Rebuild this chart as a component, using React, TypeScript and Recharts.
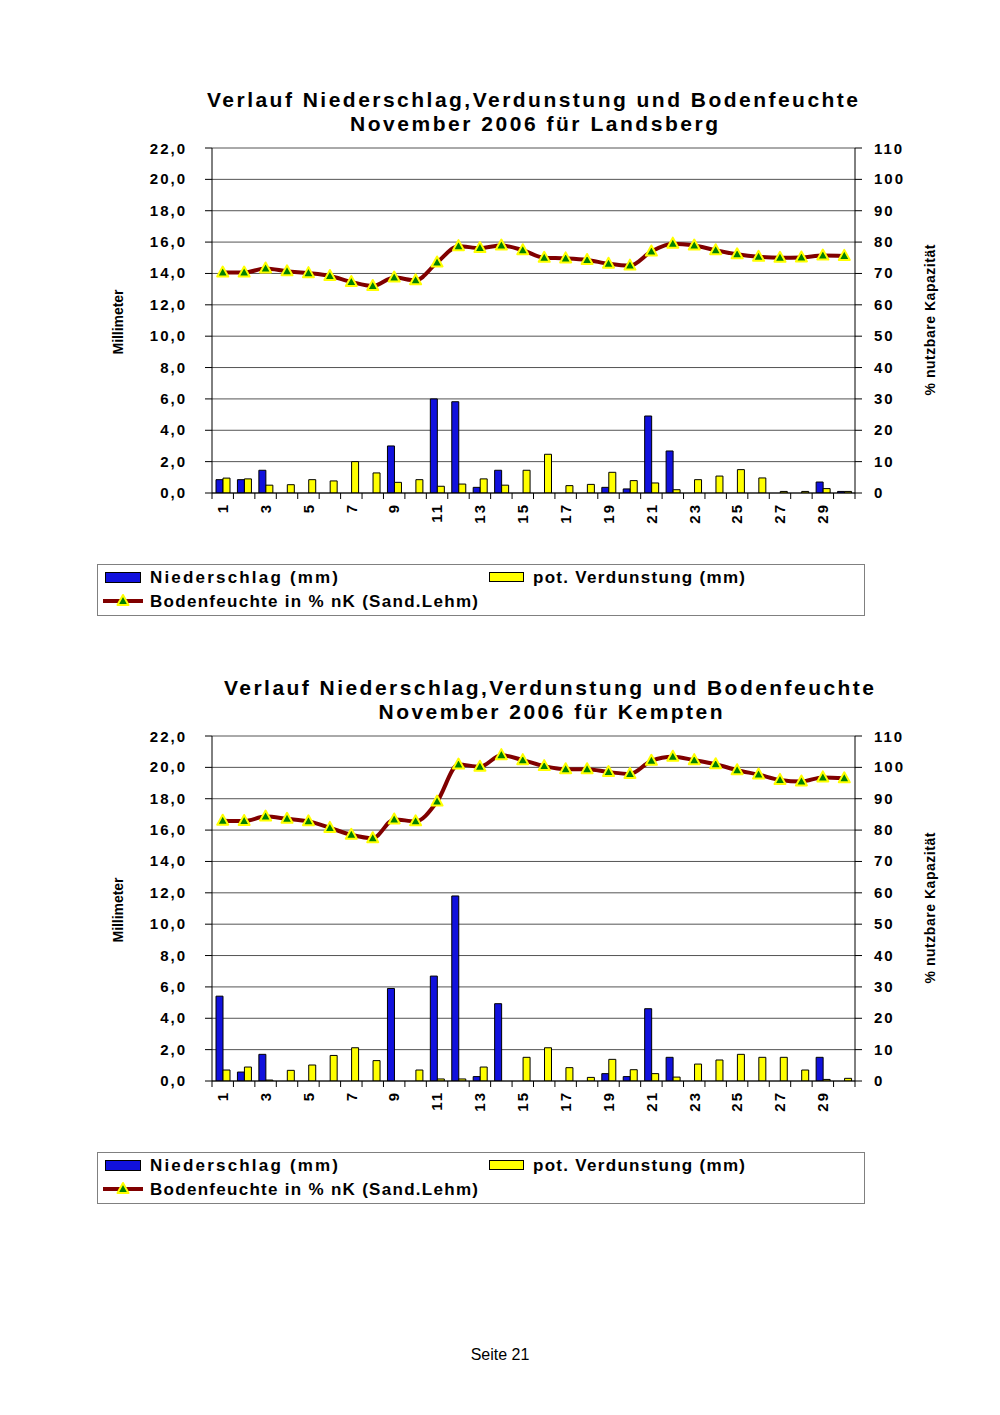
import React from 'react';
import { ComposedChart, Bar, Line, XAxis, YAxis, CartesianGrid } from 'recharts';

const days = ['1', '2', '3', '4', '5', '6', '7', '8', '9', '10', '11', '12', '13', '14', '15',
  '16', '17', '18', '19', '20', '21', '22', '23', '24', '25', '26', '27', '28', '29', '30'];

const mmTicks = [0, 2, 4, 6, 8, 10, 12, 14, 16, 18, 20, 22];
const pctTicks = [0, 10, 20, 30, 40, 50, 60, 70, 80, 90, 100, 110];

// Landsberg
const landsbergRain = [0.85, 0.85, 1.45, 0, 0, 0, 0, 0, 3.0, 0, 6.0, 5.82, 0.36, 1.45, 0,
  0, 0, 0, 0.36, 0.26, 4.91, 2.68, 0, 0, 0, 0, 0, 0, 0.7, 0.1];
const landsbergEvap = [0.95, 0.9, 0.5, 0.53, 0.85, 0.77, 2.0, 1.28, 0.68, 0.85, 0.43, 0.57, 0.9, 0.5, 1.45,
  2.47, 0.47, 0.55, 1.32, 0.79, 0.64, 0.21, 0.85, 1.08, 1.49, 0.96, 0.1, 0.1, 0.28, 0.1];
const landsbergSoil = [70.3, 70.3, 71.6, 70.7, 70.1, 69.2, 67.3, 66.0, 68.7, 67.8, 73.5, 78.7, 78.1, 78.9, 77.4,
  75.0, 74.8, 74.3, 73.1, 72.5, 77.0, 79.5, 78.9, 77.4, 76.1, 75.3, 75.0, 75.1, 75.7, 75.6];

// Kempten
const kemptenRain = [5.41, 0.57, 1.7, 0, 0, 0, 0, 0, 5.9, 0, 6.69, 11.8, 0.28, 4.93, 0,
  0, 0, 0, 0.47, 0.28, 4.61, 1.51, 0, 0, 0, 0, 0, 0, 1.51, 0];
const kemptenEvap = [0.7, 0.89, 0.06, 0.68, 1.02, 1.63, 2.12, 1.3, 0, 0.7, 0.13, 0.13, 0.89, 0, 1.51,
  2.12, 0.85, 0.23, 1.38, 0.72, 0.47, 0.25, 1.08, 1.34, 1.7, 1.51, 1.51, 0.7, 0.1, 0.17];
const kemptenSoil = [83.0, 82.9, 84.3, 83.6, 82.8, 80.7, 78.5, 77.4, 83.4, 82.8, 89.1, 100.9, 100.2, 103.9, 102.3,
  100.4, 99.4, 99.4, 98.5, 97.9, 102.1, 103.4, 102.3, 101.0, 99.1, 97.7, 96.0, 95.5, 96.8, 96.5];

const FONT = '"Liberation Sans", Arial, sans-serif';
const BLUE = '#1111dd';
const YELLOW = '#ffff00';
const DARKRED = '#800000';
const GREEN = '#008000';

const PLOT_W = 643;
const BAND = PLOT_W / days.length;

const tickStyle = { fontFamily: FONT, fontWeight: 700, fontSize: 15, fill: '#000', letterSpacing: 2 };

const LeftTick = (props: any) => {
  const { x, y, payload } = props;
  return (
    <text x={x} y={y} dy={5} textAnchor="end" style={tickStyle}>
      {Number(payload.value).toFixed(1).replace('.', ',')}
    </text>
  );
};

const RightTick = (props: any) => {
  const { x, y, payload } = props;
  return (
    <text x={x} y={y} dy={5} textAnchor="start" style={tickStyle}>
      {payload.value}
    </text>
  );
};

const DayTick = (props: any) => {
  const { x, y, payload } = props;
  const n = Number(payload.value);
  const half = BAND / 2;
  return (
    <g>
      <line x1={x - half} x2={x - half} y1={y} y2={y + 6} stroke="#000" />
      {n === 30 && <line x1={x + half} x2={x + half} y1={y} y2={y + 6} stroke="#000" />}
      {n % 2 === 1 && (
        <text
          transform={`translate(${x},${y + 10}) rotate(-90)`}
          dy="0.35em"
          textAnchor="end"
          style={{ ...tickStyle, fontSize: 15, letterSpacing: 2 }}
        >
          {payload.value}
        </text>
      )}
    </g>
  );
};

const Triangle = (props: any) => {
  const { cx, cy } = props;
  if (cx == null || cy == null) return null;
  return (
    <path
      d={`M${cx},${cy - 6} L${cx + 5.5},${cy + 4} L${cx - 5.5},${cy + 4} Z`}
      fill={GREEN}
      stroke={YELLOW}
      strokeWidth={2}
      strokeLinejoin="round"
    />
  );
};

interface ChartProps {
  top: number;
  place: string;
  cx: number;
  line1Len: number;
  line2Len: number;
  rain: number[];
  evap: number[];
  soil: number[];
}

const WeatherChart = ({ top, place, cx, line1Len, line2Len, rain, evap, soil }: ChartProps) => {
  const rows = days.map((d, i) => ({ day: d, rain: rain[i], evap: evap[i], soil: soil[i] }));
  const txt = { fontFamily: FONT, fontWeight: 700, fill: '#000' };
  // svg coords below are page coords of the first chart (top = y of the 22,0 gridline)
  return (
    <>
      <svg
        width={1000}
        height={640}
        style={{ position: 'absolute', left: 0, top: top - 148 }}
      >
        <text x={cx} y={107} textAnchor="middle" textLength={line1Len} lengthAdjust="spacing" style={{ ...txt, fontSize: 21 }}>
          Verlauf Niederschlag,Verdunstung und Bodenfeuchte
        </text>
        <text x={cx + 1.5} y={131} textAnchor="middle" textLength={line2Len} lengthAdjust="spacing" style={{ ...txt, fontSize: 21 }}>
          {`November 2006 für ${place}`}
        </text>
        <text transform="translate(123,322) rotate(-90)" textAnchor="middle" textLength={65} lengthAdjust="spacing" style={{ ...txt, fontSize: 14 }}>
          Millimeter
        </text>
        <text transform="translate(935,320) rotate(-90)" textAnchor="middle" textLength={151} lengthAdjust="spacing" style={{ ...txt, fontSize: 14 }}>
          % nutzbare Kapazität
        </text>

        <rect x={97.5} y={564.5} width={767} height={51} fill="#fff" stroke="#808080" />
        <rect x={105.5} y={572.5} width={35} height={10} fill={BLUE} stroke="#000" />
        <text x={150} y={583} textLength={188} lengthAdjust="spacing" style={{ ...txt, fontSize: 17 }}>
          Niederschlag (mm)
        </text>
        <rect x={489.5} y={572.5} width={34} height={9} fill={YELLOW} stroke="#000" />
        <text x={533} y={583} textLength={212} lengthAdjust="spacing" style={{ ...txt, fontSize: 17 }}>
          pot. Verdunstung (mm)
        </text>
        <line x1={103} x2={143} y1={601} y2={601} stroke={DARKRED} strokeWidth={4} />
        <Triangle cx={123} cy={601} />
        <text x={150} y={607} textLength={328} lengthAdjust="spacing" style={{ ...txt, fontSize: 17 }}>
          Bodenfeuchte in % nK (Sand.Lehm)
        </text>
      </svg>

      <div style={{ position: 'absolute', left: 0, top: top - 8 }}>
        <ComposedChart
          width={1000}
          height={400}
          data={rows}
          margin={{ top: 8, right: 83, left: 150, bottom: 2 }}
          barGap={0}
          barCategoryGap="17%"
        >
          <CartesianGrid yAxisId="left" horizontal vertical={false} stroke="#555" />
          <XAxis
            dataKey="day"
            interval={0}
            tick={<DayTick />}
            tickLine={false}
            tickSize={0}
            tickMargin={0}
            height={45}
            axisLine={{ stroke: '#000' }}
          />
          <YAxis
            yAxisId="left"
            domain={[0, 22]}
            ticks={mmTicks}
            width={62}
            tick={<LeftTick />}
            tickSize={7}
            tickMargin={18}
            tickLine={{ stroke: '#000' }}
            axisLine={{ stroke: '#000' }}
            allowDataOverflow
          />
          <YAxis
            yAxisId="right"
            orientation="right"
            domain={[0, 110]}
            ticks={pctTicks}
            width={62}
            tick={<RightTick />}
            tickSize={7}
            tickMargin={12}
            tickLine={{ stroke: '#000' }}
            axisLine={{ stroke: '#000' }}
            allowDataOverflow
          />
          <Bar yAxisId="left" dataKey="rain" fill={BLUE} stroke="#000" strokeWidth={1} barSize={7} isAnimationActive={false} />
          <Bar yAxisId="left" dataKey="evap" fill={YELLOW} stroke="#000" strokeWidth={1} barSize={7} isAnimationActive={false} />
          <Line
            yAxisId="right"
            dataKey="soil"
            type="monotone"
            stroke={DARKRED}
            strokeWidth={4}
            dot={<Triangle />}
            activeDot={false}
            isAnimationActive={false}
          />
        </ComposedChart>
      </div>
    </>
  );
};

const App = () => {
  return (
    <div style={{ position: 'absolute', left: 0, top: 0, width: 1000, height: 1415, background: '#fff' }}>
      <WeatherChart top={148} place="Landsberg" cx={532.5} line1Len={651} line2Len={368}
        rain={landsbergRain} evap={landsbergEvap} soil={landsbergSoil} />
      <WeatherChart top={736} place="Kempten" cx={549} line1Len={650} line2Len={344}
        rain={kemptenRain} evap={kemptenEvap} soil={kemptenSoil} />
      <div
        style={{
          position: 'absolute',
          left: 0,
          width: 1000,
          top: 1346,
          textAlign: 'center',
          fontFamily: FONT,
          fontSize: 16,
          color: '#000',
        }}
      >
        Seite 21
      </div>
    </div>
  );
};

export default App;
